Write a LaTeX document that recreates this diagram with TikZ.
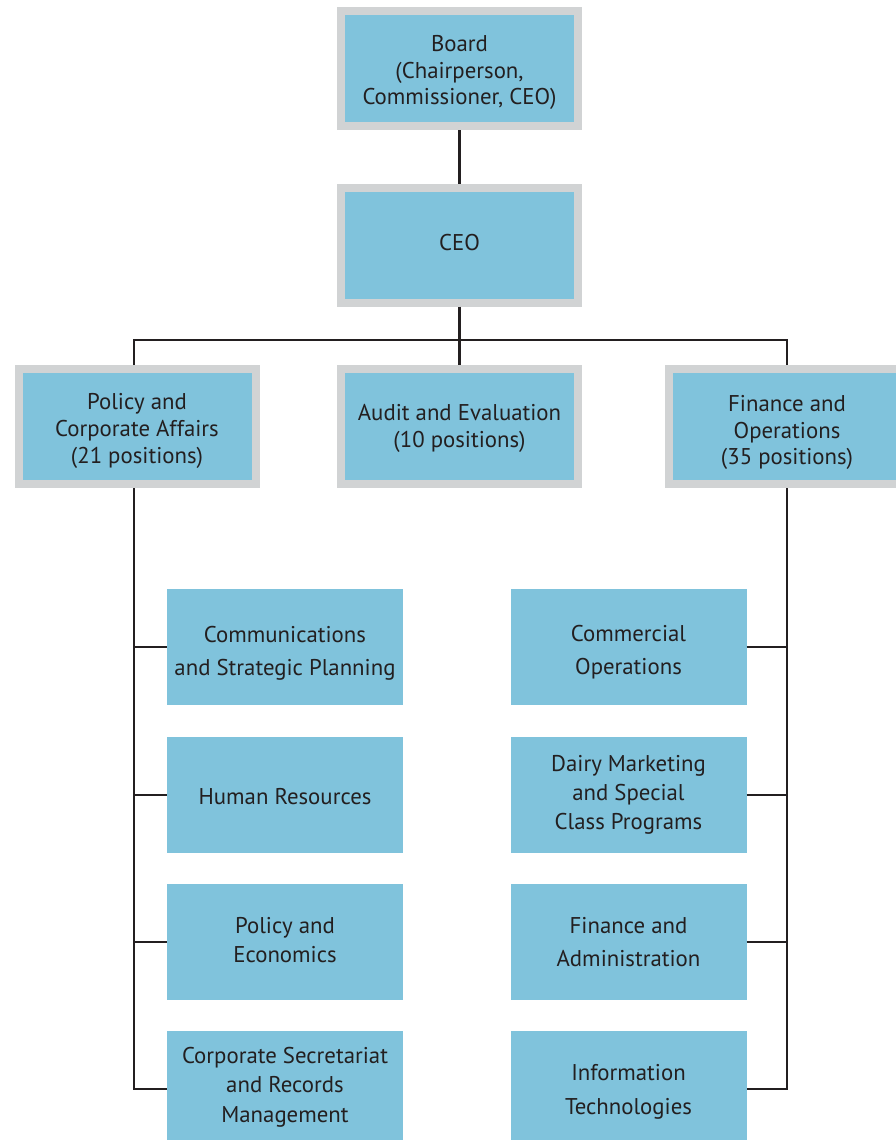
\documentclass[tikz,border=0pt]{standalone}
\usepackage{fontspec}
\setmainfont{PT Sans}
\usetikzlibrary{calc}
\definecolor{boxblue}{HTML}{80C3DC}
\definecolor{boxgray}{HTML}{D1D3D4}
\definecolor{ink}{HTML}{231F20}
\newcommand\fsz[1]{\fontsize{22.8}{#1}\selectfont}
\tikzset{
  topbox/.style={draw=boxgray, line width=8pt, fill=boxblue,
    minimum width=237pt, minimum height=115pt, inner sep=0pt},
  subbox/.style={fill=boxblue,
    minimum width=236pt, minimum height=116pt, inner sep=0pt},
  txt/.style 2 args={label={[text=ink, align=center, inner sep=0pt, font=\fsz{#1}, yshift=#2]center:{##1}}},
  link/.style={draw=ink, line width=2.8pt}
}
\newcommand\bx[6]{\node[#1, label={[text=ink, align=center, inner sep=0pt, font=\fsz{#4}, yshift=#5]center:{#6}}] (#2) at #3 {};}
\begin{document}
\begin{tikzpicture}[x=1pt,y=-1pt]
\clip (0,0) rectangle (896,1140);
\fill[white] (0,0) rectangle (896,1140);
% top level
\bx{topbox}{board}{(459.5,68.5)}{26.5}{-4pt}{Board\\(Chairperson,\\Commissioner, CEO)}
\bx{topbox}{ceo}{(459.5,245)}{26.5}{2pt}{CEO}
\bx{topbox}{pol}{(137,426.5)}{27}{-4pt}{Policy and\\Corporate Affairs\\(21 positions)}
\bx{topbox}{aud}{(459.5,426.5)}{27}{-2pt}{Audit and Evaluation\\(10 positions)}
\bx{topbox}{fin}{(787,426.5)}{26.5}{-6pt}{Finance and\\Operations\\(35 positions)}
% left column
\bx{subbox}{c1}{(285,647)}{33}{-6pt}{Communications\\and Strategic Planning}
\bx{subbox}{c2}{(285,795)}{33}{-2pt}{Human Resources}
\bx{subbox}{c3}{(285,942)}{29}{2pt}{Policy and\\Economics}
\bx{subbox}{c4}{(285,1089)}{29.5}{2pt}{Corporate Secretariat\\and Records\\Management}
% right column
\bx{subbox}{f1}{(628.5,647)}{33}{-5pt}{Commercial\\Operations}
\bx{subbox}{f2}{(628.5,795)}{29}{0pt}{Dairy Marketing\\and Special\\Class Programs}
\bx{subbox}{f3}{(628.5,942)}{33}{0pt}{Finance and\\Administration}
\bx{subbox}{f4}{(628.5,1089)}{34}{-3pt}{Information\\Technologies}
% connectors
\coordinate (hub) at (459.5,340);
\coordinate (ltop) at ($(pol.north)+(-3,0)$);
\coordinate (lbot) at ($(pol.south)+(-3,0)$);
\draw[link] (board.south) -- (ceo.north);
\draw[link] (ceo.south) -- (hub) -- (aud.north);
\draw[link] (ltop) |- (hub) -| (fin.north);
\draw[link] (lbot) |- (c4.west);
\draw[link] (c1.west) -- (c1.west -| lbot);
\draw[link] (c2.west) -- (c2.west -| lbot);
\draw[link] (c3.west) -- (c3.west -| lbot);
\draw[link] (fin.south) |- (f4.east);
\draw[link] (f1.east) -- (f1.east -| fin.south);
\draw[link] (f2.east) -- (f2.east -| fin.south);
\draw[link] (f3.east) -- (f3.east -| fin.south);
\end{tikzpicture}
\end{document}
